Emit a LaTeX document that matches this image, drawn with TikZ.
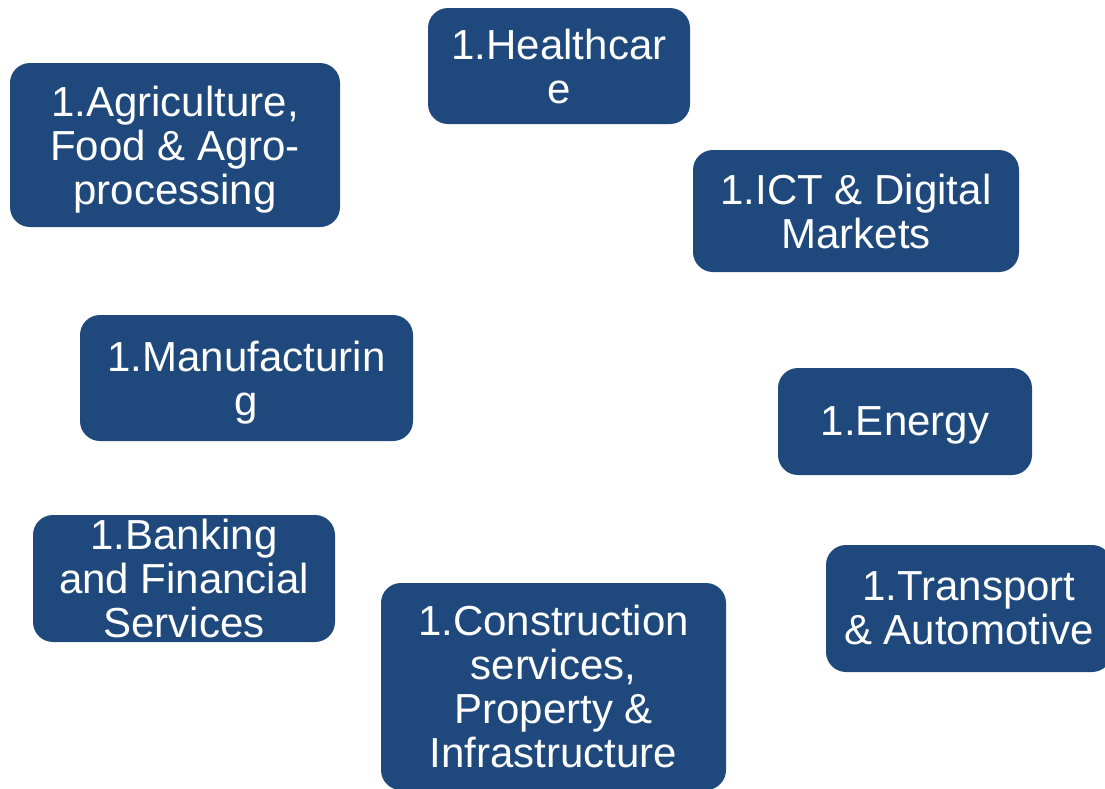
\documentclass[tikz,border=0pt]{standalone}
\usepackage{fontspec}
\setmainfont{Liberation Sans}
\definecolor{sectorblue}{RGB}{31,73,125}
\begin{document}
\begin{tikzpicture}[x=1pt,y=-1pt,
    sector/.style={rectangle,rounded corners=20pt,fill=sectorblue,text=white,
      align=center,inner sep=0pt,text depth=0pt,font=\fontsize{42}{44}\selectfont}]
  \useasboundingbox (0,0) rectangle (1105,788);
  \clip (0,0) rectangle (1105,788);
  \draw
    (559,66) node[sector,minimum width=262pt,minimum height=116pt] (health){1.Healthcar\\e}
    (175,145) node[sector,minimum width=330pt,minimum height=164pt] (agri){1.Agriculture,\\Food \& Agro-\\processing}
    (856,211) node[sector,minimum width=326pt,minimum height=122pt] (ict){1.ICT \& Digital\\Markets}
    (246.5,378) node[sector,minimum width=333pt,minimum height=126pt] (manu){1.Manufacturin\\g}
    (905,421.5) node[sector,minimum width=254pt,minimum height=107pt] (energy){1.Energy}
    (184,578.5) node[sector,minimum width=302pt,minimum height=127pt] (bank){1.Banking\\and Financial\\Services}
    (553.5,686.5) node[sector,minimum width=345pt,minimum height=207pt] (constr){1.Construction\\services,\\Property \&\\Infrastructure}
    (969,608.5) node[sector,minimum width=286pt,minimum height=127pt] (trans){1.Transport\\\& Automotive};
\end{tikzpicture}
\end{document}
